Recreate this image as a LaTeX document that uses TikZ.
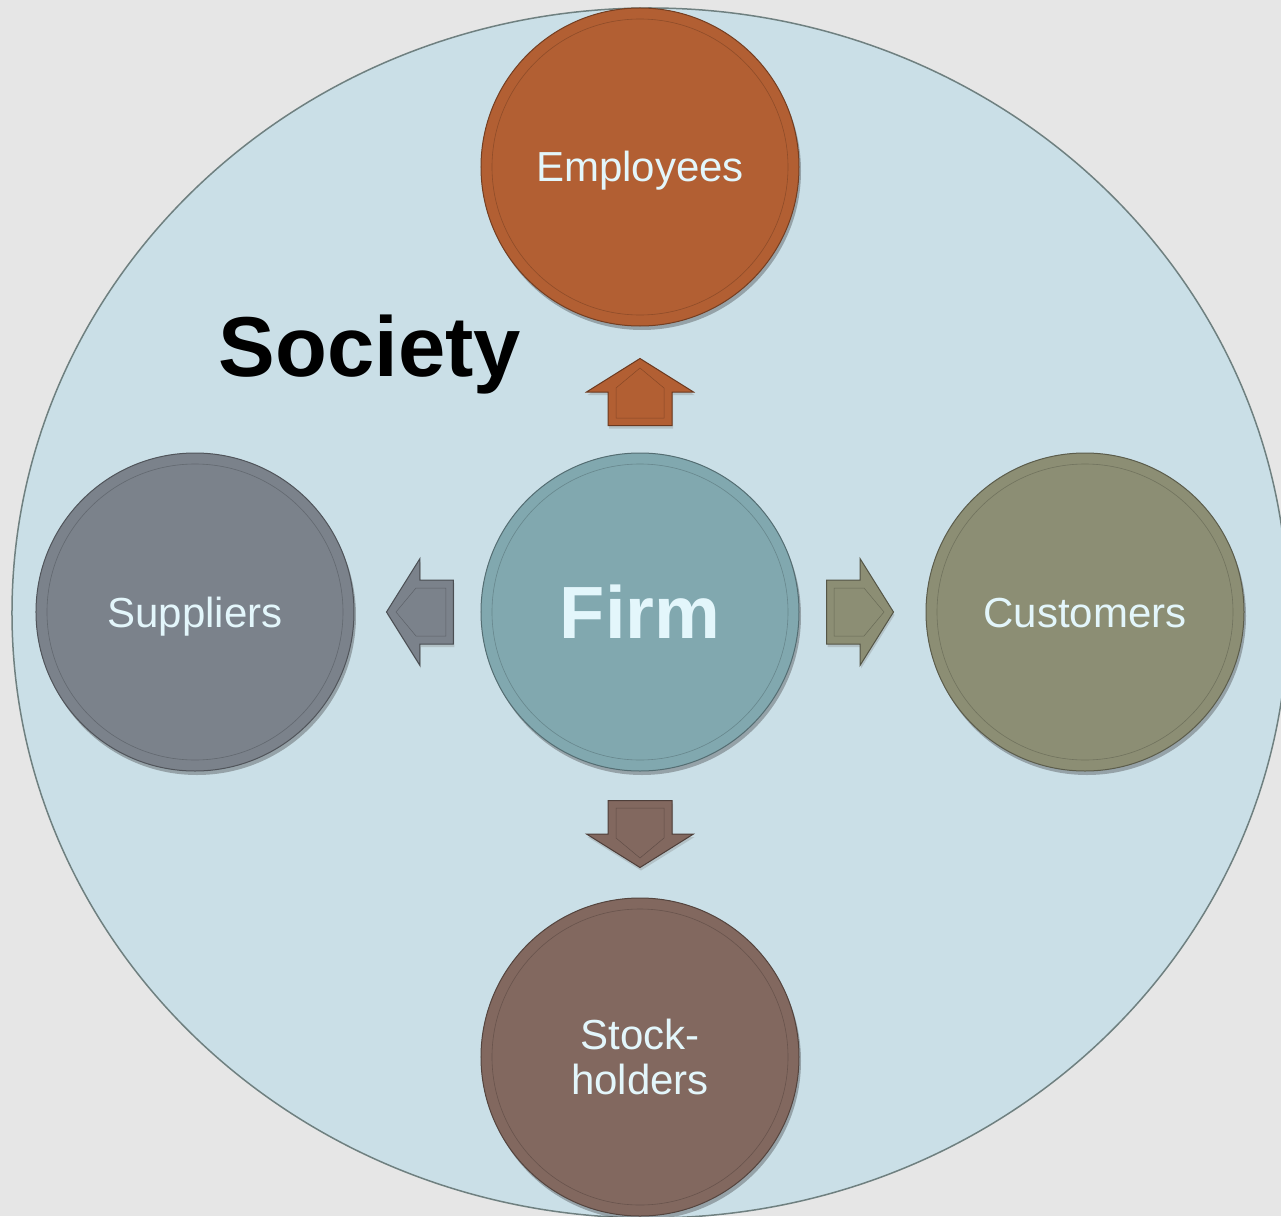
\documentclass[tikz,border=0pt]{standalone}
\usepackage{fontspec}
\setmainfont{Liberation Sans}
\usetikzlibrary{positioning,shadows,calc}

\definecolor{pagegray}{HTML}{E6E6E6}
\definecolor{socfill}{HTML}{CADFE7}
\definecolor{socline}{HTML}{6F8080}
\definecolor{empcol}{HTML}{B25F33}
\definecolor{firmcol}{HTML}{81A8AF}
\definecolor{supcol}{HTML}{7B828B}
\definecolor{cuscol}{HTML}{8C8E74}
\definecolor{stocol}{HTML}{82685F}
\definecolor{labeltxt}{HTML}{E3F6FB}

\tikzset{
  stake/.style={circle, minimum size=318pt, inner sep=0pt, outer sep=0pt,
    fill=#1, draw=#1!65!black, line width=1pt, text=labeltxt, align=center,
    font=\fontsize{42}{45}\selectfont,
    drop shadow={shadow xshift=2pt, shadow yshift=-4pt, opacity=.35, fill=black!80}},
  oneline/.style={text height=30pt, text depth=0pt},
  ring/.style={draw=#1!80!black, line width=.6pt},
  flow arrow/.pic={
    \path[fill=#1, draw=#1!60!black, line width=1pt,
      drop shadow={shadow xshift=1pt, shadow yshift=-3pt, opacity=.3}]
      (-33.5,-32) -- (0,-32) -- (0,-53.5) -- (33.5,0) -- (0,53.5) -- (0,32) -- (-33.5,32) -- cycle;
    \draw[#1!75!black, line width=.5pt]
      (-26,-24) -- (4,-24) -- (24,0) -- (4,24) -- (-26,24) -- cycle;
  }
}

\begin{document}
\begin{tikzpicture}[x=1pt, y=1pt, node distance=127pt]
\fill[pagegray] (-640,-604) rectangle (641,612);
\useasboundingbox (-640,-604) rectangle (641,612);
\draw[socline, fill=socfill, line width=1.5pt] (10,-1) ellipse [x radius=638, y radius=605];

% the firm and its stakeholders
\node[stake=firmcol, font=\fontsize{74}{80}\bfseries] (firm) at (0,0) {Firm};
\node[stake=empcol, oneline, above=of firm] (emp) {Employees};
\node[stake=supcol, oneline, left=of firm] (sup) {Suppliers};
\node[stake=cuscol, oneline, right=of firm] (cus) {Customers};
\node[stake=stocol, below=of firm] (sto) {Stock-\\holders};

\foreach \n/\c in {firm/firmcol, emp/empcol, sup/supcol, cus/cuscol, sto/stocol}
  \draw[ring=\c] (\n.center) circle [radius=148];

% block arrows
\pic[rotate=90] at ($(firm.center)+(0,220)$) {flow arrow=empcol};
\pic[rotate=180] at ($(firm.center)+(-220,0)$) {flow arrow=supcol};
\pic at ($(firm.center)+(220,0)$) {flow arrow=cuscol};
\pic[rotate=-90] at ($(firm.center)+(0,-222)$) {flow arrow=stocol};

\node[anchor=base, font=\fontsize{85}{90}\bfseries] (soc) at (-270,236) {Society};
\end{tikzpicture}
\end{document}
